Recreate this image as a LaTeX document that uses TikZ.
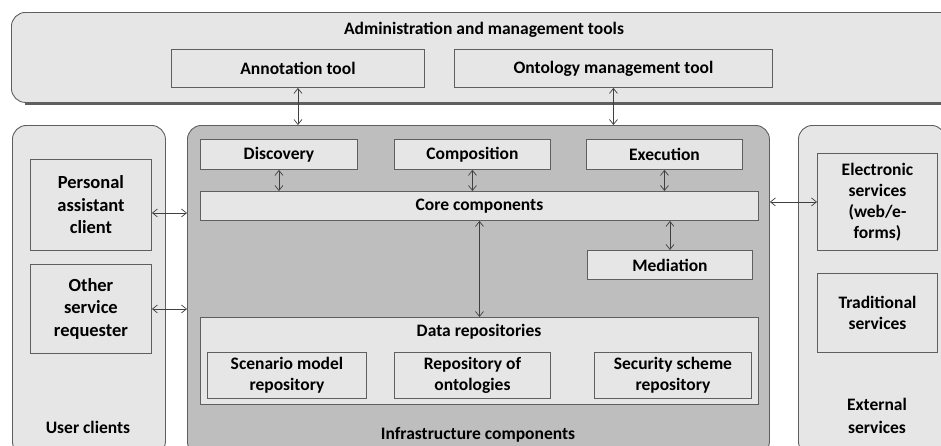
\documentclass[tikz,border=0pt]{standalone}
\usepackage{fontspec}
\setmainfont{Carlito}
\usetikzlibrary{positioning, arrows.meta}

\definecolor{boxgray}{RGB}{230,230,230}
\definecolor{infragray}{RGB}{190,190,190}
\definecolor{linegray}{RGB}{95,95,95}

\tikzstyle{group} = [rectangle, rounded corners=14pt, draw=linegray, fill=boxgray, line width=0.9pt, anchor=north west]
\tikzstyle{block} = [rectangle, draw=linegray, fill=boxgray, line width=0.9pt, anchor=north west, align=center, inner sep=2pt]
\tikzstyle{biarrow} = [<->, >={Straight Barb[length=5pt,width=8pt]}, draw=black!75, line width=0.7pt]
\tikzset{
    dims/.style 2 args={
        minimum width=#1pt, minimum height=#2pt
    },
    caption/.style={
        align=center, inner sep=0pt
    },
    bigtext/.style={
        font=\fontsize{18.5}{22.5}\selectfont\bfseries
    }
}

\begin{document}
\begin{tikzpicture}[x=1pt, y=-1pt, font=\fontsize{17.5}{21}\selectfont\bfseries]

    \useasboundingbox (0,0) rectangle (941,445);

    % Administration and management tools
    \node[group, dims={944}{90}] (admin) at (11,12) {};
    \draw[linegray, line width=1.2pt] ([xshift=14pt,yshift=-1pt]admin.south west) -- ([yshift=-1pt]admin.south east);
    \node[caption] (admintitle) at (484,30) {Administration and management tools};
    \node[block, dims={253}{38}] (annot) at (171,49) {Annotation tool};
    \node[block, dims={318}{38}] (ontmgmt) at (454,49) {Ontology management tool};

    % User clients
    \node[group, dims={153}{330}] (users) at (12,125) {};
    \node[caption] (userstitle) at (88,427) {User clients};
    \node[block, bigtext, dims={121}{91}] (personal) at (30,159) {Personal\\assistant\\client};
    \node[block, bigtext, dims={121}{89}] (other) at (30,264) {Other\\service\\requester};

    % Infrastructure components
    \node[group, fill=infragray, dims={582}{330}] (infra) at (187,125) {};
    \node[caption] (infratitle) at (478,435) {Infrastructure components};
    \node[block, dims={157}{30}] (discovery) at (200,139) {Discovery};
    \node[block, dims={156}{30}] (composition) at (394,139) {Composition};
    \node[block, dims={156}{30}] (execution) at (586,139) {Execution};
    \node[block, dims={558}{29}] (core) at (200,191) {Core components};
    \node[block, dims={165}{29}] (mediation) at (587,250) {Mediation};

    % Data repositories
    \node[block, dims={558}{87}] (datarepo) at (200,317) {};
    \node[caption] (datatitle) at (479,332) {Data repositories};
    \node[block, dims={159}{46}] (scenario) at (207,352) {Scenario model\\repository};
    \node[block, dims={156}{46}] (ontrepo) at (394,352) {Repository of\\ontologies};
    \node[block, dims={157}{46}] (security) at (594,352) {Security scheme\\repository};

    % External services
    \node[group, dims={147}{330}] (external) at (798,125) {};
    \node[caption, font=\fontsize{17.5}{23}\selectfont\bfseries] (externaltitle) at (877,416) {External\\services};
    \node[block, dims={120}{97}] (electronic) at (817,153) {Electronic\\services\\(web/e-\\forms)};
    \node[block, dims={120}{79}] (traditional) at (817,273) {Traditional\\services};

    % Connections
    \draw[biarrow] (annot.south) -- (annot.south |- infra.north);
    \draw[biarrow] (ontmgmt.south) -- (ontmgmt.south |- infra.north);
    \draw[biarrow] ([yshift=-8pt]personal.east) -- ([yshift=-8pt]personal.east -| infra.west);
    \draw[biarrow] (other.east) -- (other.east -| infra.west);
    \draw[biarrow] (discovery.south) -- (discovery.south |- core.north);
    \draw[biarrow] (composition.south) -- (composition.south |- core.north);
    \draw[biarrow] (execution.south) -- (execution.south |- core.north);
    \draw[biarrow] (mediation.north |- core.south) -- (mediation.north);
    \draw[biarrow] (core.south) -- (datarepo.north);
    \draw[biarrow] (electronic.west -| infra.east) -- (electronic.west);

\end{tikzpicture}
\end{document}
